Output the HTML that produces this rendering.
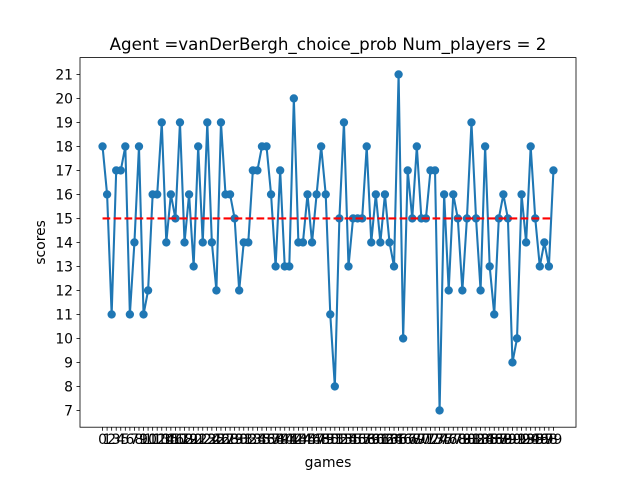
<!DOCTYPE html>
<html><head><meta charset="utf-8"><style>
html,body{margin:0;padding:0;background:#fff}
svg{display:block;font-family:"DejaVu Sans","Liberation Sans",sans-serif}
</style></head><body>
<svg id="chart" width="640" height="480" viewBox="0 0 640 480" xmlns="http://www.w3.org/2000/svg">
<rect width="640" height="480" fill="#fff"/>
<text x="328" y="50" font-size="16.7" text-anchor="middle">Agent =vanDerBergh_choice_prob Num_players = 2</text>
<g id="grid"></g>
<g id="marks"></g>
<rect x="80" y="57.6" width="496" height="369.6" fill="none" stroke="#000" stroke-width="0.8"/>
<text x="328" y="467" font-size="13.9" text-anchor="middle">games</text>
<text transform="translate(45,242.4) rotate(-90)" font-size="13.9" text-anchor="middle">scores</text>
</svg>
<script>
const scores = [18,16,11,17,17,18,11,14,18,11,12,16,16,19,14,16,15,19,14,16,13,18,14,19,14,12,19,16,16,15,12,14,14,17,17,18,18,16,13,17,13,13,20,14,14,16,14,16,18,16,11,8,15,19,13,15,15,15,18,14,16,14,16,14,13,21,10,17,15,18,15,15,17,17,7,16,12,16,15,12,15,19,15,12,18,13,11,15,16,15,9,10,16,14,18,15,13,14,13,17];
const meanLine = [15];
const yTicks = [7,8,9,10,11,12,13,14,15,16,17,18,19,20,21];
const NS='http://www.w3.org/2000/svg';
const L=80,R=576,T=57.6,B=427.2;
const n=scores.length;
const xmin=-(n-1)*0.05, xmax=(n-1)*1.05;
const ymin0=Math.min(...scores), ymax0=Math.max(...scores);
const pad=(ymax0-ymin0)*0.05;
const ymin=ymin0-pad, ymax=ymax0+pad;
const sx=v=>L+(v-xmin)/(xmax-xmin)*(R-L);
const sy=v=>B-(v-ymin)/(ymax-ymin)*(B-T);
const svg=document.getElementById('chart');
const g=document.getElementById('grid');
const m=document.getElementById('marks');
function mk(tag,attrs,parent){const e=document.createElementNS(NS,tag);for(const k in attrs)e.setAttribute(k,attrs[k]);parent.appendChild(e);return e;}
for(let i=0;i<n;i++){
  const x=sx(i);
  const t=mk('line',{x1:x,x2:x,y1:B,y2:B+3.5,stroke:'#000','stroke-width':0.8},g);
  
  
  const lb=mk('text',{x:x,y:B+17,'font-size':13.9,'text-anchor':'middle'},g);
  lb.textContent=String(i);
  
  
}
yTicks.forEach(v=>{
  const y=sy(v);
  const t=mk('line',{x1:L-3.5,x2:L,y1:y,y2:y,stroke:'#000','stroke-width':0.8},g);
  
  
  const lb=mk('text',{x:L-7,y:y+5,'font-size':13.9,'text-anchor':'end'},g);
  lb.textContent=String(v);
  
  
});
const pts=scores.map((v,i)=>sx(i).toFixed(2)+','+sy(v).toFixed(2)).join(' ');
const line=mk('polyline',{points:pts,fill:'none',stroke:'#1f77b4','stroke-width':2.08,'stroke-linejoin':'round'},m);


scores.forEach((v,i)=>{
  const c=mk('circle',{cx:sx(i),cy:sy(v),r:4.17,fill:'#1f77b4'},m);
  
  
});
const hl=mk('line',{x1:sx(0),x2:sx(n-1),y1:sy(meanLine[0]),y2:sy(meanLine[0]),stroke:'#ff0000','stroke-width':2.08,'stroke-dasharray':'7.7,3.3'},m);


</script>
</body></html>
